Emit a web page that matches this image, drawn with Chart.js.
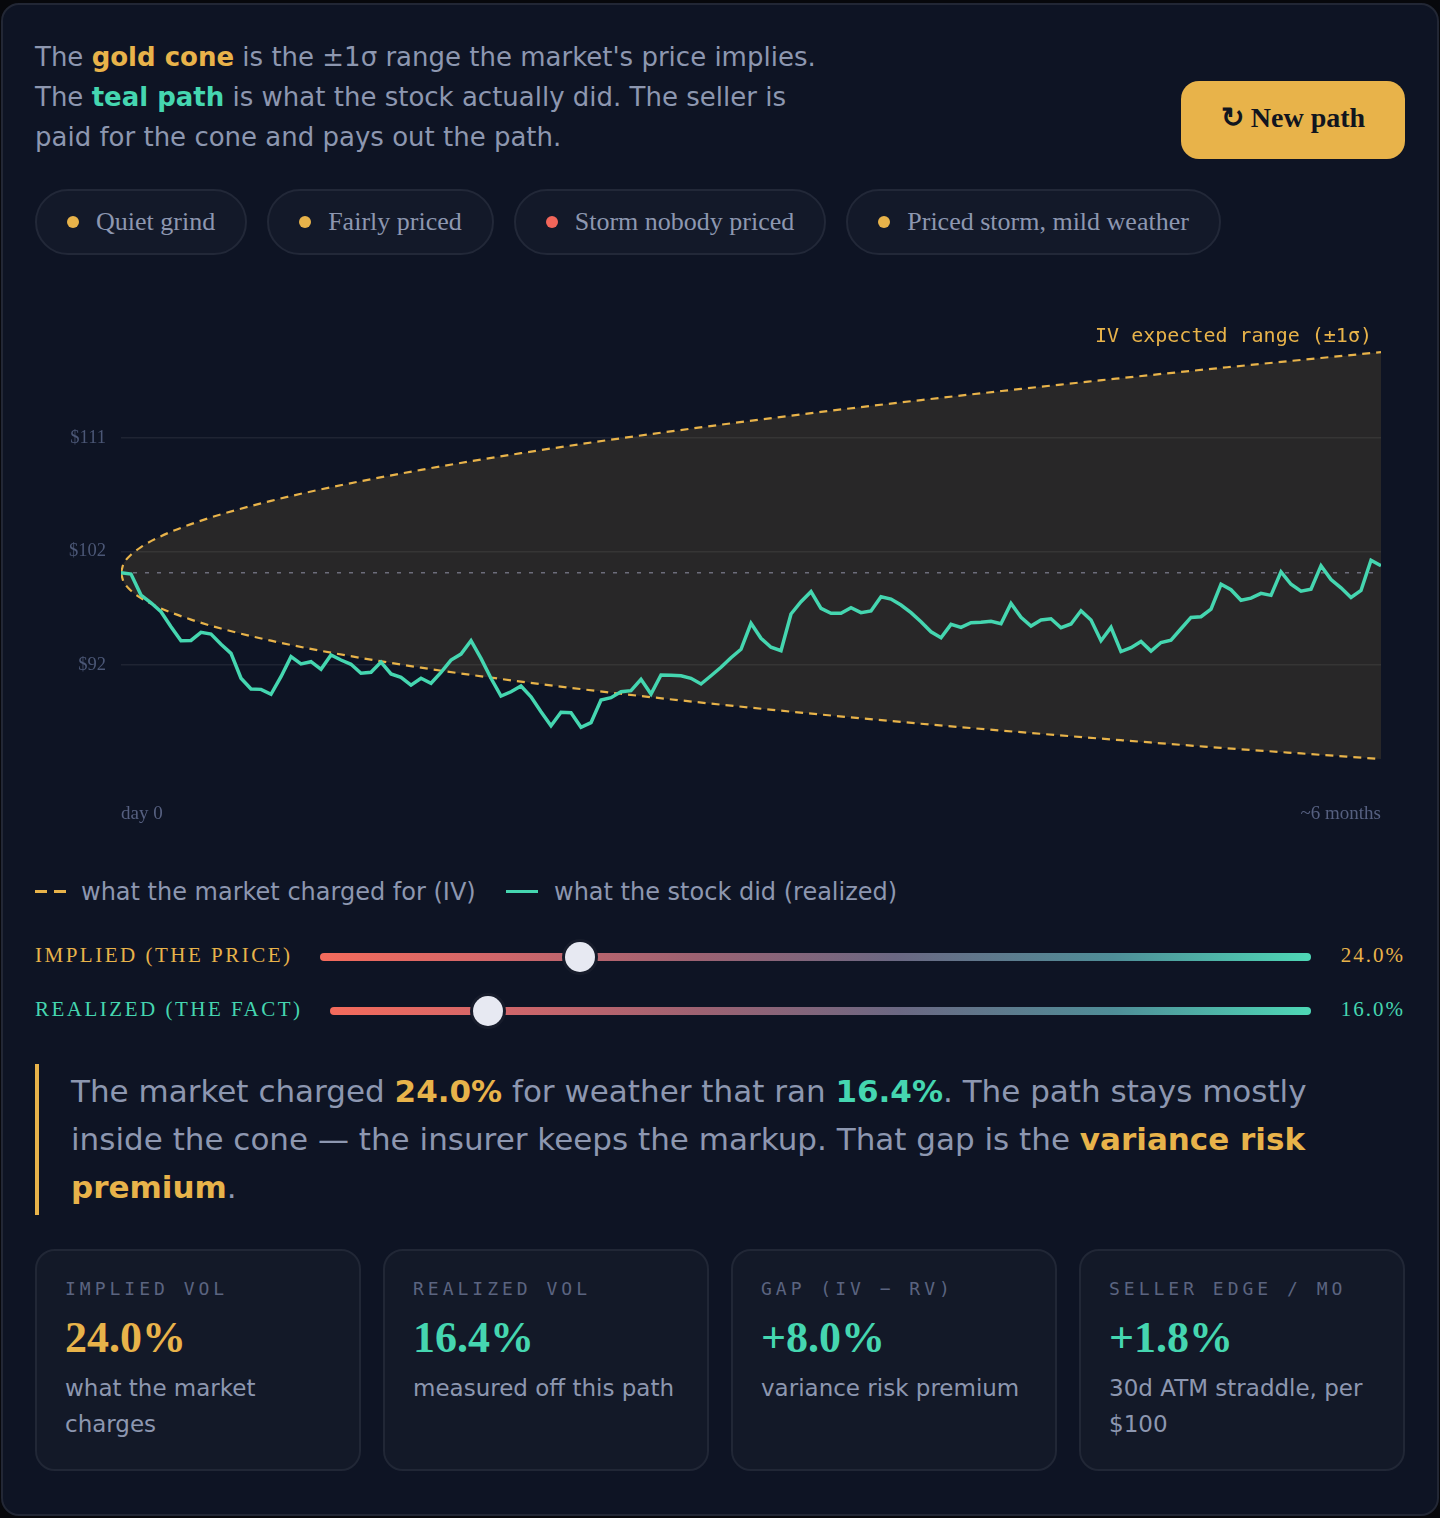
<!DOCTYPE html>
<html lang="en">
<head>
  <meta charset="UTF-8">
  <meta name="viewport" content="width=device-width, initial-scale=1.0">
  <title>Implied vs realized volatility</title>
  <style>
    body {
      margin: 0;
      width: 1440px;
      height: 1518px;
      background-color: #07080c;
      position: relative;
      overflow: hidden;
      font-family: "DejaVu Sans", sans-serif;
      color: #8d97b0;
    }
    .card {
      position: absolute;
      left: 1px;
      top: 3px;
      width: 1434px;
      height: 1509px;
      border: 2px solid #222735;
      border-radius: 18px;
      background-color: #0e1424;
    }
    .abs { position: absolute; }
    .intro {
      left: 35px;
      top: 37px;
      width: 795px;
      font-size: 26px;
      line-height: 40px;
    }
    .gold { color: #e8b34a; font-weight: bold; }
    .teal { color: #45d6b0; font-weight: bold; }
    .btn {
      left: 1181px;
      top: 81px;
      width: 224px;
      height: 78px;
      border-radius: 18px;
      background-color: #e8b34a;
      color: #11151f;
      font-family: "Liberation Serif", serif;
      font-weight: bold;
      font-size: 28px;
      line-height: 74px;
      text-align: center;
    }
    .pills {
      left: 35px;
      top: 189px;
      display: flex;
      gap: 20px;
    }
    .pill {
      box-sizing: border-box;
      height: 66px;
      padding: 0 30px;
      border: 2px solid #222838;
      border-radius: 33px;
      background-color: #131929;
      display: flex;
      align-items: center;
      font-family: "Liberation Serif", serif;
      font-size: 26px;
      color: #8d97b0;
    }
    .dot {
      width: 12px;
      height: 12px;
      border-radius: 50%;
      margin-right: 17px;
    }
    .chart-box {
      left: 35px;
      top: 290px;
      width: 1370px;
      height: 540px;
    }
    .iv-label {
      left: 900px;
      top: 323px;
      width: 472px;
      text-align: right;
      font-family: "DejaVu Sans Mono", monospace;
      font-size: 20px;
      line-height: 24px;
      color: #e8b34a;
    }
    .legend {
      top: 877px;
      font-size: 24px;
      line-height: 30px;
    }
    .swatch { height: 3px; top: 890px; }
    .slabel {
      left: 35px;
      font-family: "Liberation Serif", serif;
      font-size: 21px;
      letter-spacing: 2.5px;
      line-height: 26px;
    }
    .sval {
      left: 1250px;
      width: 155px;
      text-align: right;
      font-family: "Liberation Serif", serif;
      font-size: 21px;
      letter-spacing: 2px;
      line-height: 26px;
    }
    .track {
      height: 8px;
      border-radius: 4px;
      background: linear-gradient(90deg, #f46b5c 0%, #d0666a 18%, #9c6272 38%, #6b6883 58%, #4f8e98 80%, #4ed8b6 100%);
    }
    .thumb {
      width: 30px;
      height: 30px;
      border-radius: 50%;
      background-color: #e7e9f2;
      box-shadow: 0 0 0 3px #171c2b;
    }
    .callout {
      left: 35px;
      top: 1064px;
      width: 1280px;
      border-left: 4px solid #e8b34a;
      padding: 3px 0 4px 32px;
      font-size: 31px;
      line-height: 48px;
    }
    .stat {
      box-sizing: border-box;
      top: 1249px;
      width: 326px;
      height: 222px;
      border: 2px solid #212736;
      border-radius: 20px;
      background-color: #131928;
      padding: 26px 0 0 28px;
    }
    .stat .t {
      font-family: "DejaVu Sans Mono", monospace;
      font-size: 18px;
      letter-spacing: 4px;
      line-height: 24px;
      color: #5b6480;
    }
    .stat .v {
      margin-top: 12px;
      font-family: "Liberation Serif", serif;
      font-weight: bold;
      font-size: 44px;
      line-height: 50px;
    }
    .stat .d {
      margin-top: 7px;
      width: 266px;
      font-size: 23px;
      line-height: 36px;
      color: #8d97b0;
    }
  </style>
</head>
<body>
  <div class="card"></div>

  <div class="abs intro">The <span class="gold">gold cone</span> is the ±1σ range the market's price implies. The <span class="teal">teal path</span> is what the stock actually did. The seller is paid for the cone and pays out the path.</div>

  <div class="abs btn">↻ New path</div>

  <div class="abs pills">
    <div class="pill"><span class="dot" style="background:#e8b34a"></span>Quiet grind</div>
    <div class="pill"><span class="dot" style="background:#e8b34a"></span>Fairly priced</div>
    <div class="pill"><span class="dot" style="background:#f2665a"></span>Storm nobody priced</div>
    <div class="pill"><span class="dot" style="background:#e8b34a"></span>Priced storm, mild weather</div>
  </div>

  <div class="abs chart-box"><canvas id="volChart"></canvas></div>
  <div class="abs iv-label">IV expected range (±1σ)</div>

  <div class="abs swatch" style="left:35px;width:31px;background:repeating-linear-gradient(90deg,#e8b34a 0 12px,transparent 12px 19px);"></div>
  <div class="abs legend" style="left:81px">what the market charged for (IV)</div>
  <div class="abs swatch" style="left:506px;width:32px;background:#45d6b0;"></div>
  <div class="abs legend" style="left:554px">what the stock did (realized)</div>

  <div class="abs slabel" style="top:942px;color:#e8b34a">IMPLIED (THE PRICE)</div>
  <div class="abs track" style="left:320px;width:991px;top:953px"></div>
  <div class="abs thumb" style="left:565px;top:942px"></div>
  <div class="abs sval" style="top:942px;color:#e8b34a">24.0%</div>

  <div class="abs slabel" style="top:996px;color:#45d6b0">REALIZED (THE FACT)</div>
  <div class="abs track" style="left:330px;width:981px;top:1007px"></div>
  <div class="abs thumb" style="left:473px;top:996px"></div>
  <div class="abs sval" style="top:996px;color:#45d6b0">16.0%</div>

  <div class="abs callout">The market charged <span class="gold">24.0%</span> for weather that ran <span class="teal">16.4%</span>. The path stays mostly inside the cone — the insurer keeps the markup. That gap is the <span class="gold">variance risk premium</span>.</div>

  <div class="abs stat" style="left:35px">
    <div class="t">IMPLIED VOL</div>
    <div class="v" style="color:#e8b34a">24.0%</div>
    <div class="d">what the market charges</div>
  </div>
  <div class="abs stat" style="left:383px">
    <div class="t">REALIZED VOL</div>
    <div class="v" style="color:#45d6b0">16.4%</div>
    <div class="d">measured off this path</div>
  </div>
  <div class="abs stat" style="left:731px">
    <div class="t">GAP (IV − RV)</div>
    <div class="v" style="color:#45d6b0">+8.0%</div>
    <div class="d">variance risk premium</div>
  </div>
  <div class="abs stat" style="left:1079px">
    <div class="t">SELLER EDGE / MO</div>
    <div class="v" style="color:#45d6b0">+1.8%</div>
    <div class="d">30d ATM straddle, per $100</div>
  </div>

  <script src="https://cdn.jsdelivr.net/npm/chart.js"></script>
  <script>
    // price path, one value per trading day (day 0 .. 126)
    const pathPrice = [
      100.00, 99.90, 98.14, 97.49, 96.74, 95.48, 94.31, 94.33, 95.01, 94.87,
      94.01, 93.25, 91.16, 90.26, 90.23, 89.82, 91.29, 92.97, 92.36, 92.55,
      91.91, 93.11, 92.69, 92.33, 91.58, 91.66, 92.52, 91.52, 91.24, 90.59,
      91.16, 90.74, 91.66, 92.69, 93.19, 94.31, 92.83, 91.16, 89.67, 90.03,
      90.51, 89.61, 88.36, 87.18, 88.31, 88.27, 87.05, 87.44, 89.34, 89.53,
      90.03, 90.12, 91.07, 89.84, 91.43, 91.41, 91.37, 91.16, 90.68, 91.37,
      92.08, 92.88, 93.59, 95.77, 94.51, 93.76, 93.47, 96.55, 97.58, 98.42,
      97.02, 96.61, 96.61, 97.07, 96.66, 96.80, 98.00, 97.80, 97.30, 96.66,
      95.90, 95.06, 94.56, 95.68, 95.43, 95.82, 95.85, 95.93, 95.73, 97.44,
      96.27, 95.54, 96.04, 96.15, 95.40, 95.71, 96.82, 96.04, 94.31, 95.43,
      93.40, 93.72, 94.24, 93.44, 94.16, 94.36, 95.31, 96.26, 96.32, 96.96,
      99.04, 98.58, 97.70, 97.88, 98.28, 98.11, 100.08, 99.04, 98.46, 98.63,
      100.60, 99.44, 98.74, 97.94, 98.52, 101.06, 100.60
    ];

    // cone edges read at these days
    const coneDays  = [0, 0.25, 0.5, 1, 2, 4, 7, 10, 15, 20, 30, 40, 50, 60, 70, 80, 90, 100, 110, 120, 126];
    const coneUpper = [100, 100.76, 101.08, 101.52, 102.16, 103.07, 104.08, 104.90, 106.03, 107.00, 108.63,
                       110.03, 111.28, 112.42, 113.49, 114.48, 115.42, 116.32, 117.18, 118.01, 118.50];
    const coneLower = [100, 99.25, 98.94, 98.50, 97.88, 97.02, 96.08, 95.33, 94.31, 93.46, 92.05,
                       90.88, 89.86, 88.95, 88.12, 87.35, 86.64, 85.97, 85.33, 84.74, 84.39];

    const startPrice = 100;
    const yTickValues = [92.3, 101.8, 111.3];
    const xTickDays = [0, 126];
    const xTickLabels = ['day 0', '~6 months'];

    const gold = '#e8b34a';
    const teal = '#45d6b0';

    Chart.defaults.font.family = '"Liberation Serif", serif';

    const toPts = (xs, ys) => xs.map((x, i) => ({ x: x, y: ys[i] }));

    const ctx = document.getElementById('volChart').getContext('2d');
    new Chart(ctx, {
      type: 'line',
      data: {
        datasets: [
          {
            label: 'cone upper',
            data: toPts(coneDays, coneUpper),
            borderColor: gold,
            borderWidth: 2.2,
            borderDash: [8, 6],
            backgroundColor: 'rgba(232, 179, 74, 0.12)',
            fill: '+1',
            pointRadius: 0,
            cubicInterpolationMode: 'monotone',
            order: 2
          },
          {
            label: 'cone lower',
            data: toPts(coneDays, coneLower),
            borderColor: gold,
            borderWidth: 2.2,
            borderDash: [8, 6],
            fill: false,
            pointRadius: 0,
            cubicInterpolationMode: 'monotone',
            order: 2
          },
          {
            label: 'start',
            data: toPts(xTickDays, [startPrice, startPrice]),
            borderColor: '#5c6482',
            borderWidth: 1.6,
            borderDash: [4, 8],
            fill: false,
            pointRadius: 0,
            order: 3
          },
          {
            label: 'realized',
            data: pathPrice.map((p, i) => ({ x: i, y: p })),
            borderColor: teal,
            borderWidth: 3.5,
            fill: false,
            pointRadius: 0,
            tension: 0,
            order: 0
          }
        ]
      },
      options: {
        responsive: true,
        maintainAspectRatio: false,
        animation: false,
        layout: { padding: { top: 34.7, right: 24, left: 0, bottom: 0 } },
        plugins: {
          legend: { display: false },
          tooltip: { enabled: false }
        },
        scales: {
          x: {
            type: 'linear',
            min: 0,
            max: 126,
            grid: { display: false },
            border: { display: false },
            afterBuildTicks: scale => { scale.ticks = xTickDays.map(v => ({ value: v })); },
            afterFit: scale => { scale.height = 52; },
            ticks: {
              align: 'inner',
              padding: 17,
              maxRotation: 0,
              color: '#566080',
              font: { size: 19 },
              callback: (v, i) => xTickLabels[i]
            }
          },
          y: {
            min: 82.8,
            max: 120.8,
            grid: { color: 'rgba(255,255,255,0.07)', lineWidth: 1.5, drawTicks: false },
            border: { display: false },
            afterBuildTicks: scale => { scale.ticks = yTickValues.map(v => ({ value: v })); },
            afterFit: scale => { scale.width = 86; },
            ticks: {
              padding: 15,
              color: '#4b5776',
              font: { size: 18.5 },
              callback: v => '$' + Math.round(v)
            }
          }
        }
      }
    });
  </script>
</body>
</html>
